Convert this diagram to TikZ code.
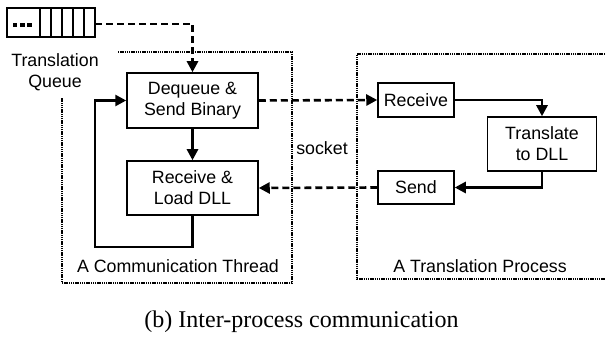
\documentclass[tikz,border=0pt]{standalone}
\usepackage{fontspec}
\setmainfont{Liberation Sans}
\newfontfamily\capfont{Liberation Serif}
\usetikzlibrary{arrows.meta}

\begin{document}
\begin{tikzpicture}[x=1pt,y=-1pt,
    every node/.style={font=\fontsize{17.8}{21}\selectfont},
    box/.style={draw,line width=1.5pt,minimum width=#1,inner sep=0pt,align=center},
    flow/.style={line width=2.6pt,-{Triangle[length=11pt,width=11pt]}},
    msg/.style={flow,dash pattern=on 7pt off 4pt},
    region/.style={line width=2pt,dash pattern=on 1.4pt off 0.8pt}]
  \useasboundingbox (0,0) rectangle (605,347);
  % the queue
  \draw [line width=1.5pt] (7,8) rectangle (95,37);
  \foreach \x in {40,51,62,73,84}
    \draw [line width=1.3pt] (\x,8) -- (\x,37);
  \foreach \x in {15,22.2,29.4}
    \fill (\x-2.4,22.6) rectangle (\x+2.4,27.4);
  \coordinate (queue) at (95,24);
  \node [align=center] (qlabel) at (55,72) {Translation\\Queue};
  % regions
  \draw [region] (118,52) -- (292,52) -- (292,283) -- (62,283) -- (62,98);
  \draw [region] (605,54) -- (357,54) -- (357,279) -- (605,279);
  \node (thread) at (178,266) {A Communication Thread};
  \node (proc) at (480,266) {A Translation Process};
  \node (socket) at (322,148) {socket};
  % boxes
  \node [box=131pt,minimum height=55pt] (deq) at (192.5,100.5) {Dequeue \&\\Send Binary};
  \node [box=131pt,minimum height=54pt] (load) at (192.5,188) {Receive \&\\Load DLL};
  \node [box=76pt,minimum height=34pt] (recv) at (416,100) {Receive};
  \node [box=109pt,minimum height=54pt] (trans) at (542,144) {Translate\\to DLL};
  \node [box=76pt,minimum height=33pt] (send) at (416,187.5) {Send};
  % connectors
  \coordinate (loop) at (95,247);
  \draw [msg] (queue) -| (deq.north);
  \draw [flow] (deq) -- (load);
  \draw [flow] (load.south) |- (loop) |- (deq.west);
  \draw [msg] (deq.east) -- (recv.west);
  \draw [flow] (recv.east) -| (trans.north);
  \draw [flow] (trans.south) |- (send.east);
  \draw [msg] (send.west) -- (load.east);
  \node [font=\capfont\fontsize{24}{28}\selectfont] (caption) at (301.5,322) {(b) Inter-process communication};
\end{tikzpicture}
\end{document}
